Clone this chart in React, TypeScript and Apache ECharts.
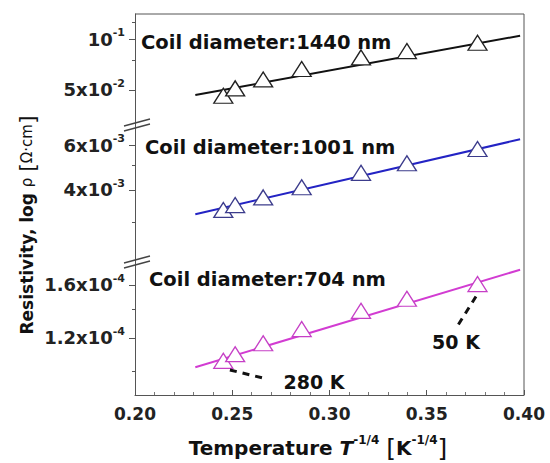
import React, { useEffect, useRef } from "react";
import * as echarts from "echarts";

// x = T^-1/4 for T = 280, 250, 200, 150, 100, 75, 50 K
const tempX = [0.2454, 0.2515, 0.2659, 0.2857, 0.3162, 0.3398, 0.3761];
const rho1440 = [0.0462, 0.0511, 0.0577, 0.0665, 0.0779, 0.0849, 0.0951];
const rho1001 = [3.34e-3, 3.49e-3, 3.74e-3, 4.1e-3, 4.67e-3, 5.09e-3, 5.79e-3];
const rho704 = [1.059e-4, 1.098e-4, 1.165e-4, 1.258e-4, 1.389e-4, 1.483e-4, 1.606e-4];

const fitX = [0.231, 0.398];
const fit1440 = [0.0467, 0.1046];
const fit1001 = [3.21e-3, 6.32e-3];
const fit704 = [1.023e-4, 1.736e-4];

const panelMin = [0.0319, 2.126e-3, 8.8e-5];
const panelMax = [0.1406, 7.32e-3, 1.83e-4];
const majorTicks = [[0.05, 0.1], [4e-3, 6e-3], [1.2e-4, 1.6e-4]];
const majorLabels = [
  ["5x10{s|-2}", "10{s|-1}"],
  ["4x10{s|-3}", "6x10{s|-3}"],
  ["1.2x10{s|-4}", "1.6x10{s|-4}"],
];
const minorTicks = [[0.075, 0.125], [3e-3, 5e-3], [1.0e-4, 1.4e-4]];

const seriesNames = [
  "Coil diameter:1440 nm",
  "Coil diameter:1001 nm",
  "Coil diameter:704 nm",
];

// annotation: 280 K and 50 K leaders (data coords in bottom panel)
const lead280 = [[0.2488, 1.008e-4], [0.2677, 9.6e-5]];
const lead50 = [[0.3753, 1.501e-4], [0.3662, 1.288e-4]];

const FONT = "'DejaVu Sans', sans-serif";

export default function App() {
  const ref = useRef<HTMLDivElement>(null);
  useEffect(() => {
    if (!ref.current) return;
    const chart = echarts.init(ref.current, null, { renderer: "svg" });

    const L = 135, R = 524, T = 14, B = 395;
    const breaks = [123, 260];
    const tops = [T, breaks[0], breaks[1]];
    const bots = [breaks[0], breaks[1], B];

    const grids = tops.map((t, i) => ({
      left: L,
      width: R - L,
      top: t,
      height: bots[i] - t,
    }));

    const xAxes = [0, 1, 2].map((i) => ({
      type: "value",
      gridIndex: i,
      min: 0.2,
      max: 0.4,
      interval: 0.05,
      show: i === 2,
      axisLine: { show: true, lineStyle: { color: "#555", width: 1 } },
      axisTick: { show: true, inside: true, length: 5, lineStyle: { color: "#555" } },
      minorTick: { show: true, splitNumber: 5, length: 3, lineStyle: { color: "#777" } },
      splitLine: { show: false },
      axisLabel: {
        show: true,
        margin: 10,
        fontFamily: FONT,
        fontWeight: "bold",
        fontSize: 17,
        color: "#222",
        formatter: (v: number) => v.toFixed(2),
      },
    }));

    const fmtFor = (i: number) => (v: number) => {
      let best = 0;
      let bd = Infinity;
      majorTicks[i].forEach((t, k) => {
        const d = Math.abs(Math.log10(v) - Math.log10(t));
        if (d < bd) { bd = d; best = k; }
      });
      return majorLabels[i][best];
    };

    const yAxes: any[] = [];
    [0, 1, 2].forEach((i) => {
      yAxes.push({
        type: "log",
        logBase: 10,
        gridIndex: i,
        min: panelMin[i],
        max: panelMax[i],
        position: "left",
        axisLine: { show: true, lineStyle: { color: "#555", width: 1 } },
        axisTick: { show: true, inside: false, length: 6, customValues: majorTicks[i], lineStyle: { color: "#555" } },
        splitLine: { show: false },
        minorTick: { show: false },
        axisLabel: {
          show: true,
          customValues: majorTicks[i],
          margin: 10,
          formatter: fmtFor(i),
          fontFamily: FONT,
          fontWeight: "bold",
          fontSize: 18,
          color: "#222",
          lineHeight: 24,
          rich: {
            s: { fontSize: 11, fontWeight: "bold", fontFamily: FONT, color: "#222", verticalAlign: "top", lineHeight: 12 },
          },
        },
      });
    });
    [0, 1, 2].forEach((i) => {
      yAxes.push({
        type: "log",
        logBase: 10,
        gridIndex: i,
        min: panelMin[i],
        max: panelMax[i],
        position: "left",
        axisLine: { show: false },
        axisTick: { show: true, inside: false, length: 3, customValues: minorTicks[i], lineStyle: { color: "#555" } },
        axisLabel: { show: false, customValues: minorTicks[i] },
        splitLine: { show: false },
      });
    });

    const pts = (xs: number[], ys: number[]) => xs.map((x, k) => [x, ys[k]]);
    const lineColors = ["#111111", "#2323c4", "#d23cd2"];
    const markColors = ["#222222", "#3c3c8c", "#c640c6"];
    const rhos = [rho1440, rho1001, rho704];
    const fits = [fit1440, fit1001, fit704];

    const series: any[] = [];
    [0, 1, 2].forEach((i) => {
      const s: any = {
        type: "line",
        name: seriesNames[i] + " fit",
        xAxisIndex: i,
        yAxisIndex: i,
        data: pts(fitX, fits[i]),
        showSymbol: false,
        symbol: "none",
        lineStyle: { color: lineColors[i], width: 2 },
        z: 2,
      };
      if (i === 2) {
        s.markLine = {
          silent: true,
          symbol: ["none", "none"],
          label: { show: false },
          lineStyle: { color: "#111", width: 3, type: [7, 6] },
          data: [
            [{ coord: lead280[0] }, { coord: lead280[1] }],
            [{ coord: lead50[0] }, { coord: lead50[1] }],
          ],
        };
      }
      series.push(s);
      series.push({
        type: "scatter",
        name: seriesNames[i],
        xAxisIndex: i,
        yAxisIndex: i,
        data: pts(tempX, rhos[i]),
        symbol: "triangle",
        symbolSize: [19, 15],
        itemStyle: { color: "#ffffff", borderColor: markColors[i], borderWidth: 1.3, opacity: 1 },
        z: 3,
      });
    });

    const txt = (x: number, y: number, text: string, size = 19, align = "left") => ({
      type: "text",
      x,
      y,
      style: {
        text,
        fill: "#111",
        fontFamily: FONT,
        fontWeight: "bold",
        fontSize: size,
        align,
        verticalAlign: "middle",
      },
      z: 10,
    });

    const breakMarks = breaks.flatMap((y) => [
      { type: "line", shape: { x1: 124, y1: y + 3, x2: 150, y2: y - 4 }, style: { stroke: "#444", lineWidth: 1.3 }, z: 10 },
      { type: "line", shape: { x1: 124, y1: y + 8, x2: 150, y2: y + 1 }, style: { stroke: "#444", lineWidth: 1.3 }, z: 10 },
    ]);

    chart.setOption({
      animation: false,
      backgroundColor: "#ffffff",
      grid: grids,
      xAxis: xAxes,
      yAxis: yAxes,
      series,
      graphic: [
        { type: "line", shape: { x1: L, y1: T, x2: R, y2: T }, style: { stroke: "#555", lineWidth: 1 }, z: 5 },
        { type: "line", shape: { x1: R, y1: T, x2: R, y2: B }, style: { stroke: "#555", lineWidth: 1 }, z: 5 },
        ...breakMarks,
        txt(141, 42, seriesNames[0], 19.5),
        txt(145, 147, seriesNames[1], 19.5),
        txt(149, 279, seriesNames[2], 19.5),
        txt(314, 382, "280 K", 19, "center"),
        txt(456, 342, "50 K", 19, "center"),
        {
          type: "text",
          x: 318,
          y: 448,
          style: {
            text: "Temperature {i|T}{s|-1/4} {b|[}K{s|-1/4}{b|]}",
            fill: "#111",
            fontFamily: FONT,
            fontWeight: "bold",
            fontSize: 20,
            align: "center",
            verticalAlign: "middle",
            lineHeight: 28,
            rich: {
              i: { fontFamily: FONT, fontWeight: "bold", fontStyle: "italic", fontSize: 20, fill: "#111", lineHeight: 28 },
              s: { fontFamily: FONT, fontWeight: "bold", fontSize: 12, fill: "#111", verticalAlign: "top", lineHeight: 13 },
              b: { fontFamily: FONT, fontSize: 25, fill: "#111", lineHeight: 28 },
            },
          },
          z: 10,
        },
        {
          type: "text",
          x: 27,
          y: 225,
          rotation: Math.PI / 2,
          style: {
            text: "Resistivity, log {r|ρ} {b|[}{r|Ω·cm}{b|]}",
            fill: "#111",
            fontFamily: FONT,
            fontWeight: "bold",
            fontSize: 17,
            align: "center",
            verticalAlign: "middle",
            lineHeight: 24,
            rich: {
              r: { fontFamily: FONT, fontSize: 15, fill: "#111", lineHeight: 24 },
              b: { fontFamily: FONT, fontSize: 22, fill: "#111", lineHeight: 24 },
            },
          },
          z: 10,
        },
      ],
    });
    return () => chart.dispose();
  }, []);
  return (
    <div
      ref={ref}
      style={{ position: "absolute", left: 0, top: 0, width: 550, height: 463 }}
    />
  );
}
